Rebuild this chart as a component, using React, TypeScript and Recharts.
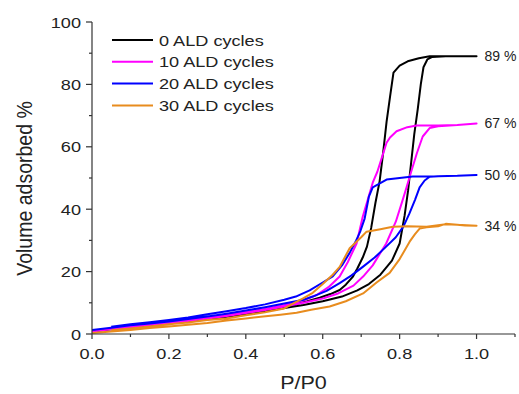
import { LineChart, Line, XAxis, YAxis, Legend } from "recharts";

const FONT = "Arial, 'Liberation Sans', sans-serif";
const TEXT = "#222";
const AXIS = "#333";
const STRETCH = 1.17; // the source picture is a bit wider than tall

const SERIES_NAMES = ["0 ALD cycles", "10 ALD cycles", "20 ALD cycles", "30 ALD cycles"];
const END_LABELS = ["89 %", "67 %", "50 %", "34 %"];
const COLORS = ["#000000", "#ff00ff", "#0000ff", "#e88c1e"];

const X_TICKS = [0, 0.1, 0.2, 0.3, 0.4, 0.5, 0.6, 0.7, 0.8, 0.9, 1.0, 1.1];
const Y_TICKS = [0, 10, 20, 30, 40, 50, 60, 70, 80, 90, 100];

// [P/P0, volume %] – adsorption branch (up) and desorption branch (down)
const ALD0_ADS = [
  [0, 0.8], [0.05, 1.5], [0.1, 2.2], [0.15, 2.8], [0.2, 3.4], [0.25, 4], [0.3, 4.7], [0.35, 5.5],
  [0.4, 6.4], [0.45, 7.3], [0.5, 8.3], [0.55, 9.3], [0.6, 10.5], [0.65, 12], [0.69, 14], [0.72, 16],
  [0.75, 19], [0.78, 23.5], [0.8, 29], [0.813, 38], [0.822, 46], [0.83, 55], [0.838, 64], [0.847, 72],
  [0.855, 80], [0.862, 85.5], [0.872, 88], [0.885, 88.8], [0.92, 89], [0.96, 89], [1.0, 89],
];
const ALD0_DES = [
  [1.0, 89], [0.95, 89], [0.9, 89], [0.878, 89], [0.85, 88.4], [0.821, 87.4], [0.8, 86], [0.784, 83.8],
  [0.775, 76], [0.766, 68], [0.757, 58], [0.748, 49], [0.737, 42], [0.726, 34], [0.715, 28], [0.704, 24.5],
  [0.69, 21], [0.678, 18.3], [0.66, 15.8], [0.644, 14.1], [0.62, 12.8], [0.592, 11.6], [0.56, 10.5],
  [0.52, 9.3], [0.48, 8.5], [0.44, 7.6], [0.4, 6.8], [0.35, 5.9], [0.3, 5.1], [0.25, 4.4], [0.2, 3.8],
  [0.15, 3.1], [0.1, 2.5], [0.05, 1.8],
];

const ALD10_ADS = [
  [0, 0.8], [0.05, 1.5], [0.1, 2.2], [0.15, 2.9], [0.2, 3.5], [0.25, 4.2], [0.3, 5], [0.35, 5.8],
  [0.4, 6.7], [0.45, 7.7], [0.5, 8.8], [0.55, 10], [0.6, 11.4], [0.64, 13], [0.68, 15.5], [0.705, 18.4],
  [0.73, 22], [0.765, 29], [0.79, 36], [0.808, 43], [0.818, 47], [0.83, 52], [0.845, 58], [0.86, 63.3],
  [0.878, 66], [0.9, 66.6], [0.95, 67], [1.0, 67.5],
];
const ALD10_DES = [
  [1.0, 67.5], [0.95, 67], [0.9, 66.8], [0.844, 66.8], [0.82, 66.3], [0.792, 65], [0.775, 63],
  [0.766, 61.3], [0.755, 57], [0.742, 52], [0.73, 48.5], [0.717, 43], [0.704, 37.6], [0.688, 29],
  [0.665, 23], [0.644, 18.4], [0.615, 15], [0.584, 12.5], [0.55, 10.8], [0.5, 9.2], [0.45, 8],
  [0.4, 7.1], [0.35, 6.2], [0.3, 5.4], [0.2, 3.9], [0.1, 2.6], [0.05, 1.9],
];

const ALD20_ADS = [
  [0, 1.3], [0.05, 2], [0.1, 2.8], [0.15, 3.4], [0.2, 4], [0.25, 4.8], [0.3, 5.6], [0.35, 6.5],
  [0.4, 7.5], [0.45, 8.6], [0.5, 9.8], [0.55, 11], [0.574, 12], [0.61, 13.8], [0.644, 16.3],
  [0.675, 18.8], [0.705, 21.6], [0.735, 24.5], [0.765, 28], [0.79, 31], [0.81, 34.5], [0.825, 38.5],
  [0.84, 43], [0.852, 47], [0.865, 49.2], [0.878, 50.4], [0.9, 50.6], [0.95, 50.7], [1.0, 51],
];
const ALD20_DES = [
  [1.0, 51], [0.95, 50.7], [0.9, 50.6], [0.834, 50.5], [0.8, 50], [0.766, 49.5], [0.745, 48],
  [0.73, 47], [0.72, 44], [0.709, 37], [0.698, 33], [0.687, 30], [0.67, 26], [0.65, 22], [0.626, 18.5],
  [0.6, 16.5], [0.566, 14], [0.53, 12], [0.5, 11], [0.45, 9.5], [0.4, 8.3], [0.35, 7.3], [0.3, 6.3],
  [0.25, 5.3], [0.2, 4.5], [0.15, 3.8], [0.1, 3.1], [0.05, 2.3],
];

const ALD30_ADS = [
  [0, 0.3], [0.05, 0.8], [0.1, 1.3], [0.15, 1.9], [0.2, 2.4], [0.25, 3], [0.3, 3.5], [0.35, 4.3],
  [0.4, 5], [0.445, 5.6], [0.49, 6.2], [0.532, 6.8], [0.57, 7.8], [0.618, 8.8], [0.66, 10.5],
  [0.705, 13], [0.74, 16.5], [0.774, 19.6], [0.8, 24], [0.826, 29.6], [0.84, 32], [0.852, 33.8],
  [0.87, 34.2], [0.9, 34.5], [0.92, 35.3], [0.95, 35], [0.97, 34.8], [1.0, 34.7],
];
const ALD30_DES = [
  [1.0, 34.7], [0.95, 35], [0.92, 35.2], [0.87, 34.4], [0.82, 34.5], [0.782, 34.4], [0.75, 33.6],
  [0.714, 32.8], [0.7, 31], [0.67, 27.5], [0.644, 21.5], [0.626, 19], [0.6, 16], [0.574, 13.2],
  [0.55, 11.5], [0.52, 9.6], [0.5, 8.2], [0.45, 7], [0.4, 6], [0.35, 5], [0.3, 4.5],
  [0.25, 3.7], [0.2, 3.1], [0.15, 2.4], [0.1, 1.8], [0.05, 1.2],
];

const BRANCHES = [
  [ALD0_ADS, ALD0_DES],
  [ALD10_ADS, ALD10_DES],
  [ALD20_ADS, ALD20_DES],
  [ALD30_ADS, ALD30_DES],
];

// one closed hysteresis loop per series: up the adsorption branch, back down the desorption one
const toLoop = (ads: number[][], des: number[][]) =>
  [...ads, ...des.slice(1)].map(([x, y]) => ({ x, y }));

const SERIES = SERIES_NAMES.map((name, i) => ({
  name,
  color: COLORS[i],
  endLabel: END_LABELS[i],
  endIndex: BRANCHES[i][0].length - 1,
  data: toLoop(BRANCHES[i][0], BRANCHES[i][1]),
}));

function XTick(props: any) {
  const { x, y, payload } = props;
  const v = payload.value;
  const major = Math.round(v * 10) % 2 === 0;
  return (
    <g>
      <line x1={x} x2={x} y1={y} y2={y + (major ? 5 : 3)} stroke={AXIS} strokeWidth={1.2} />
      {major && v <= 1.0001 && (
        <text transform={`translate(${x},${y + 25}) scale(${STRETCH},1)`} textAnchor="middle"
          fontSize={15.5} fontFamily={FONT} fill={TEXT}>
          {v.toFixed(1)}
        </text>
      )}
    </g>
  );
}

function YTick(props: any) {
  const { x, y, payload } = props;
  const v = payload.value;
  const major = v % 20 === 0;
  return (
    <g>
      <line x1={x - (major ? 6 : 3)} x2={x} y1={y} y2={y} stroke={AXIS} strokeWidth={1.2} />
      {major && (
        <text transform={`translate(${x - 11},${y + 5.5}) scale(${STRETCH},1)`} textAnchor="end"
          fontSize={15.5} fontFamily={FONT} fill={TEXT}>
          {v}
        </text>
      )}
    </g>
  );
}

function XTitle() {
  return (
    <text transform={`translate(303.5,389) scale(${STRETCH},1)`} textAnchor="middle"
      fontSize={18.4} fontFamily={FONT} fill={TEXT}>
      P/P0
    </text>
  );
}

function YTitle() {
  return (
    <text transform={`translate(32,188.5) rotate(-90) scale(1,${STRETCH})`} textAnchor="middle"
      fontSize={19.5} fontFamily={FONT} fill={TEXT}>
      Volume adsorbed %
    </text>
  );
}

function LegendBox(props: any) {
  const { payload = [] } = props;
  return (
    <svg width={200} height={95}>
      {payload.map((entry: any, i: number) => {
        const cy = 15 + i * 21.8;
        return (
          <g key={entry.value}>
            <line x1={12} x2={53} y1={cy} y2={cy} stroke={entry.color} strokeWidth={2} />
            <text transform={`translate(59,${cy + 5.5}) scale(${STRETCH},1)`} fontSize={15.5}
              fontFamily={FONT} fill={TEXT}>
              {entry.value}
            </text>
          </g>
        );
      })}
    </svg>
  );
}

const endLabel = (text: string, idx: number) => (p: any) => {
  if (p.index !== idx) return null;
  const px = p.viewBox?.x ?? p.x;
  const py = p.viewBox?.y ?? p.y;
  return (
    <text x={px + 8} y={py + 5} fontSize={14} fontFamily={FONT} fill={TEXT}>
      {text}
    </text>
  );
};

export default function App() {
  return (
    <div style={{ width: 519, height: 394, background: "#fff", position: "relative" }}>
      <style>{"body{margin:0}"}</style>
      <LineChart width={519} height={394} margin={{ top: 22, right: 4, bottom: 0, left: 0 }}>
        <XAxis
          type="number"
          dataKey="x"
          domain={[0, 1.1]}
          ticks={X_TICKS}
          interval={0}
          allowDataOverflow
          height={60}
          tickSize={0}
          tickMargin={0}
          tickLine={false}
          tick={<XTick />}
          axisLine={{ stroke: AXIS, strokeWidth: 1.2 }}
          label={<XTitle />}
        />
        <YAxis
          type="number"
          dataKey="y"
          domain={[0, 100]}
          ticks={Y_TICKS}
          interval={0}
          allowDataOverflow
          width={92}
          tickSize={0}
          tickMargin={0}
          tickLine={false}
          tick={<YTick />}
          axisLine={{ stroke: AXIS, strokeWidth: 1.2 }}
          label={<YTitle />}
        />
        <Legend
          layout="horizontal"
          verticalAlign="middle"
          align="center"
          content={<LegendBox />}
          wrapperStyle={{ left: 100, top: 25, width: 200, height: 95 }}
        />
        {SERIES.map((s) => (
          <Line
            key={s.name}
            name={s.name}
            data={s.data}
            dataKey="y"
            type="linear"
            stroke={s.color}
            strokeWidth={2}
            strokeLinejoin="round"
            dot={false}
            activeDot={false}
            isAnimationActive={false}
            label={endLabel(s.endLabel, s.endIndex)}
          />
        ))}
      </LineChart>
    </div>
  );
}
